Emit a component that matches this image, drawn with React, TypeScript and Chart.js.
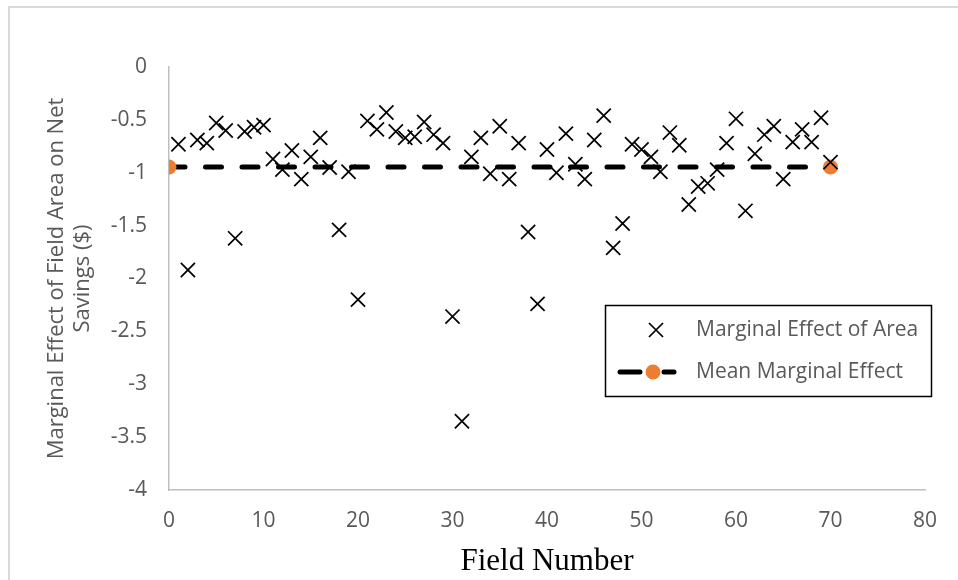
import React, { useEffect, useRef } from 'react';
import { Chart, registerables } from 'chart.js';

Chart.register(...registerables);

// ---- Data ----
const fieldNumbers = [
  1, 2, 3, 4, 5, 6, 7, 8, 9, 10,
  11, 12, 13, 14, 15, 16, 17, 18, 19, 20,
  21, 22, 23, 24, 25, 26, 27, 28, 29, 30,
  31, 32, 33, 34, 35, 36, 37, 38, 39, 40,
  41, 42, 43, 44, 45, 46, 47, 48, 49, 50,
  51, 52, 53, 54, 55, 56, 57, 58, 59, 60,
  61, 62, 63, 64, 65, 66, 67, 68, 69, 70,
];

const marginalEffects = [
  -0.73, -1.92, -0.69, -0.72, -0.53, -0.60, -1.62, -0.61, -0.57, -0.55,
  -0.87, -0.97, -0.79, -1.06, -0.85, -0.67, -0.95, -1.54, -0.99, -2.20,
  -0.51, -0.59, -0.43, -0.61, -0.67, -0.66, -0.52, -0.64, -0.72, -2.36,
  -3.35, -0.85, -0.67, -1.01, -0.56, -1.06, -0.72, -1.56, -2.24, -0.78,
  -1.00, -0.63, -0.92, -1.06, -0.69, -0.46, -1.71, -1.48, -0.73, -0.78,
  -0.85, -0.99, -0.62, -0.74, -1.30, -1.13, -1.10, -0.97, -0.72, -0.49,
  -1.36, -0.82, -0.64, -0.56, -1.06, -0.71, -0.59, -0.71, -0.48, -0.90,
];

const meanFieldRange = [0, 70];
const meanMarginalEffect = -0.945;

const seriesLabels = ['Marginal Effect of Area', 'Mean Marginal Effect'];
const xAxisTitle = 'Field Number';
const yAxisTitle = ['Marginal Effect of Field Area on Net', 'Savings ($)'];

const xTickRange = { min: 0, max: 80, step: 10 };
const yTickRange = { min: -4, max: 0, step: 0.5 };

// ---- Styles ----
const GRAY_TEXT = '#595959';
const AXIS_GRAY = '#bfbfbf';
const ORANGE = '#ED7D31';
const SANS = "'Open Sans', sans-serif";

const boxLegendPlugin = {
  id: 'boxLegend',
  afterDraw(chart: any) {
    const ctx = chart.ctx as CanvasRenderingContext2D;
    const labels = chart.data.datasets.map((d: any) => d.label);
    ctx.save();
    // frame
    ctx.strokeStyle = '#000000';
    ctx.lineWidth = 1.5;
    ctx.strokeRect(605.5, 305.5, 326, 91);

    // row 1: X marker
    const r1 = 330;
    ctx.lineWidth = 1.75;
    ctx.beginPath();
    ctx.moveTo(656 - 7, r1 - 7);
    ctx.lineTo(656 + 7, r1 + 7);
    ctx.moveTo(656 + 7, r1 - 7);
    ctx.lineTo(656 - 7, r1 + 7);
    ctx.stroke();

    // row 2: dashed line with dot
    const r2 = 372;
    ctx.lineWidth = 5;
    ctx.lineCap = 'round';
    ctx.beginPath();
    ctx.moveTo(620, r2);
    ctx.lineTo(640, r2);
    ctx.moveTo(664, r2);
    ctx.lineTo(674, r2);
    ctx.stroke();
    ctx.fillStyle = ORANGE;
    ctx.beginPath();
    ctx.arc(653, r2, 7.5, 0, Math.PI * 2);
    ctx.fill();

    // texts
    ctx.fillStyle = GRAY_TEXT;
    ctx.font = `21px ${SANS}`;
    ctx.textBaseline = 'middle';
    ctx.textAlign = 'left';
    ctx.fillText(labels[0], 696, r1);
    ctx.fillText(labels[1], 696, r2);
    ctx.restore();
  },
};

export default function App() {
  const canvasRef = useRef<HTMLCanvasElement | null>(null);

  useEffect(() => {
    if (!canvasRef.current) return;
    const scatterPoints = fieldNumbers.map((x, i) => ({ x, y: marginalEffects[i] }));
    const meanPoints = meanFieldRange.map((x) => ({ x, y: meanMarginalEffect }));

    const chart = new Chart(canvasRef.current, {
      type: 'scatter',
      data: {
        datasets: [
          {
            label: seriesLabels[0],
            data: scatterPoints,
            pointStyle: 'crossRot',
            pointRadius: 10,
            pointBorderWidth: 1.75,
            borderColor: '#000000',
            backgroundColor: '#000000',
            showLine: false,
          },
          {
            label: seriesLabels[1],
            type: 'line',
            data: meanPoints,
            borderColor: '#000000',
            borderWidth: 5,
            borderDash: [16, 20.5],
            borderCapStyle: 'round',
            pointRadius: 7.5,
            pointBorderWidth: 0,
            pointBackgroundColor: ORANGE,
            pointBorderColor: ORANGE,
            fill: false,
            tension: 0,
          } as any,
        ],
      },
      options: {
        responsive: false,
        animation: false,
        events: [],
        layout: { padding: { top: 67, right: 33, left: 0, bottom: 0 } },
        plugins: {
          legend: { display: false },
          tooltip: { enabled: false },
          title: { display: false },
        },
        scales: {
          x: {
            type: 'linear',
            min: xTickRange.min,
            max: xTickRange.max,
            grid: { display: false, drawTicks: false },
            border: { display: true, color: AXIS_GRAY, width: 1.5 },
            ticks: {
              stepSize: xTickRange.step,
              color: GRAY_TEXT,
              padding: 18,
              font: { family: SANS, size: 21 },
              callback: (v: any) => String(Number(v)),
            },
            title: {
              display: true,
              text: xAxisTitle,
              color: '#000000',
              padding: { top: 0, bottom: 0 },
              font: { family: "'Liberation Serif', 'Times New Roman', serif", size: 31, lineHeight: 1.2 },
            },
            afterFit: (scale: any) => {
              scale.height = 90;
            },
          },
          y: {
            type: 'linear',
            min: yTickRange.min,
            max: yTickRange.max,
            grid: { display: false, drawTicks: false },
            border: { display: true, color: AXIS_GRAY, width: 1.5 },
            ticks: {
              stepSize: yTickRange.step,
              color: GRAY_TEXT,
              padding: 22,
              font: { family: SANS, size: 21 },
              callback: (v: any) => String(Math.round(Number(v) * 10) / 10),
            },
            title: {
              display: true,
              text: yAxisTitle,
              color: GRAY_TEXT,
              padding: { top: 44, bottom: 0 },
              font: { family: SANS, size: 22, lineHeight: 1.18 },
            },
            afterFit: (scale: any) => {
              scale.width = 169;
            },
          },
        },
      },
      plugins: [boxLegendPlugin],
    });

    return () => {
      chart.destroy();
    };
  }, []);

  return (
    <div
      style={{
        position: 'fixed',
        left: 0,
        top: 0,
        width: 958,
        height: 580,
        background: '#ffffff',
        overflow: 'hidden',
      }}
    >
      <div
        style={{
          position: 'absolute',
          left: 8,
          top: 6,
          width: 980,
          height: 600,
          borderTop: '2px solid #d9d9d9',
          borderLeft: '2px solid #d9d9d9',
        }}
      />
      <canvas
        ref={canvasRef}
        width={958}
        height={580}
        style={{ position: 'absolute', left: 0, top: 0, width: 958, height: 580 }}
      />
    </div>
  );
}
